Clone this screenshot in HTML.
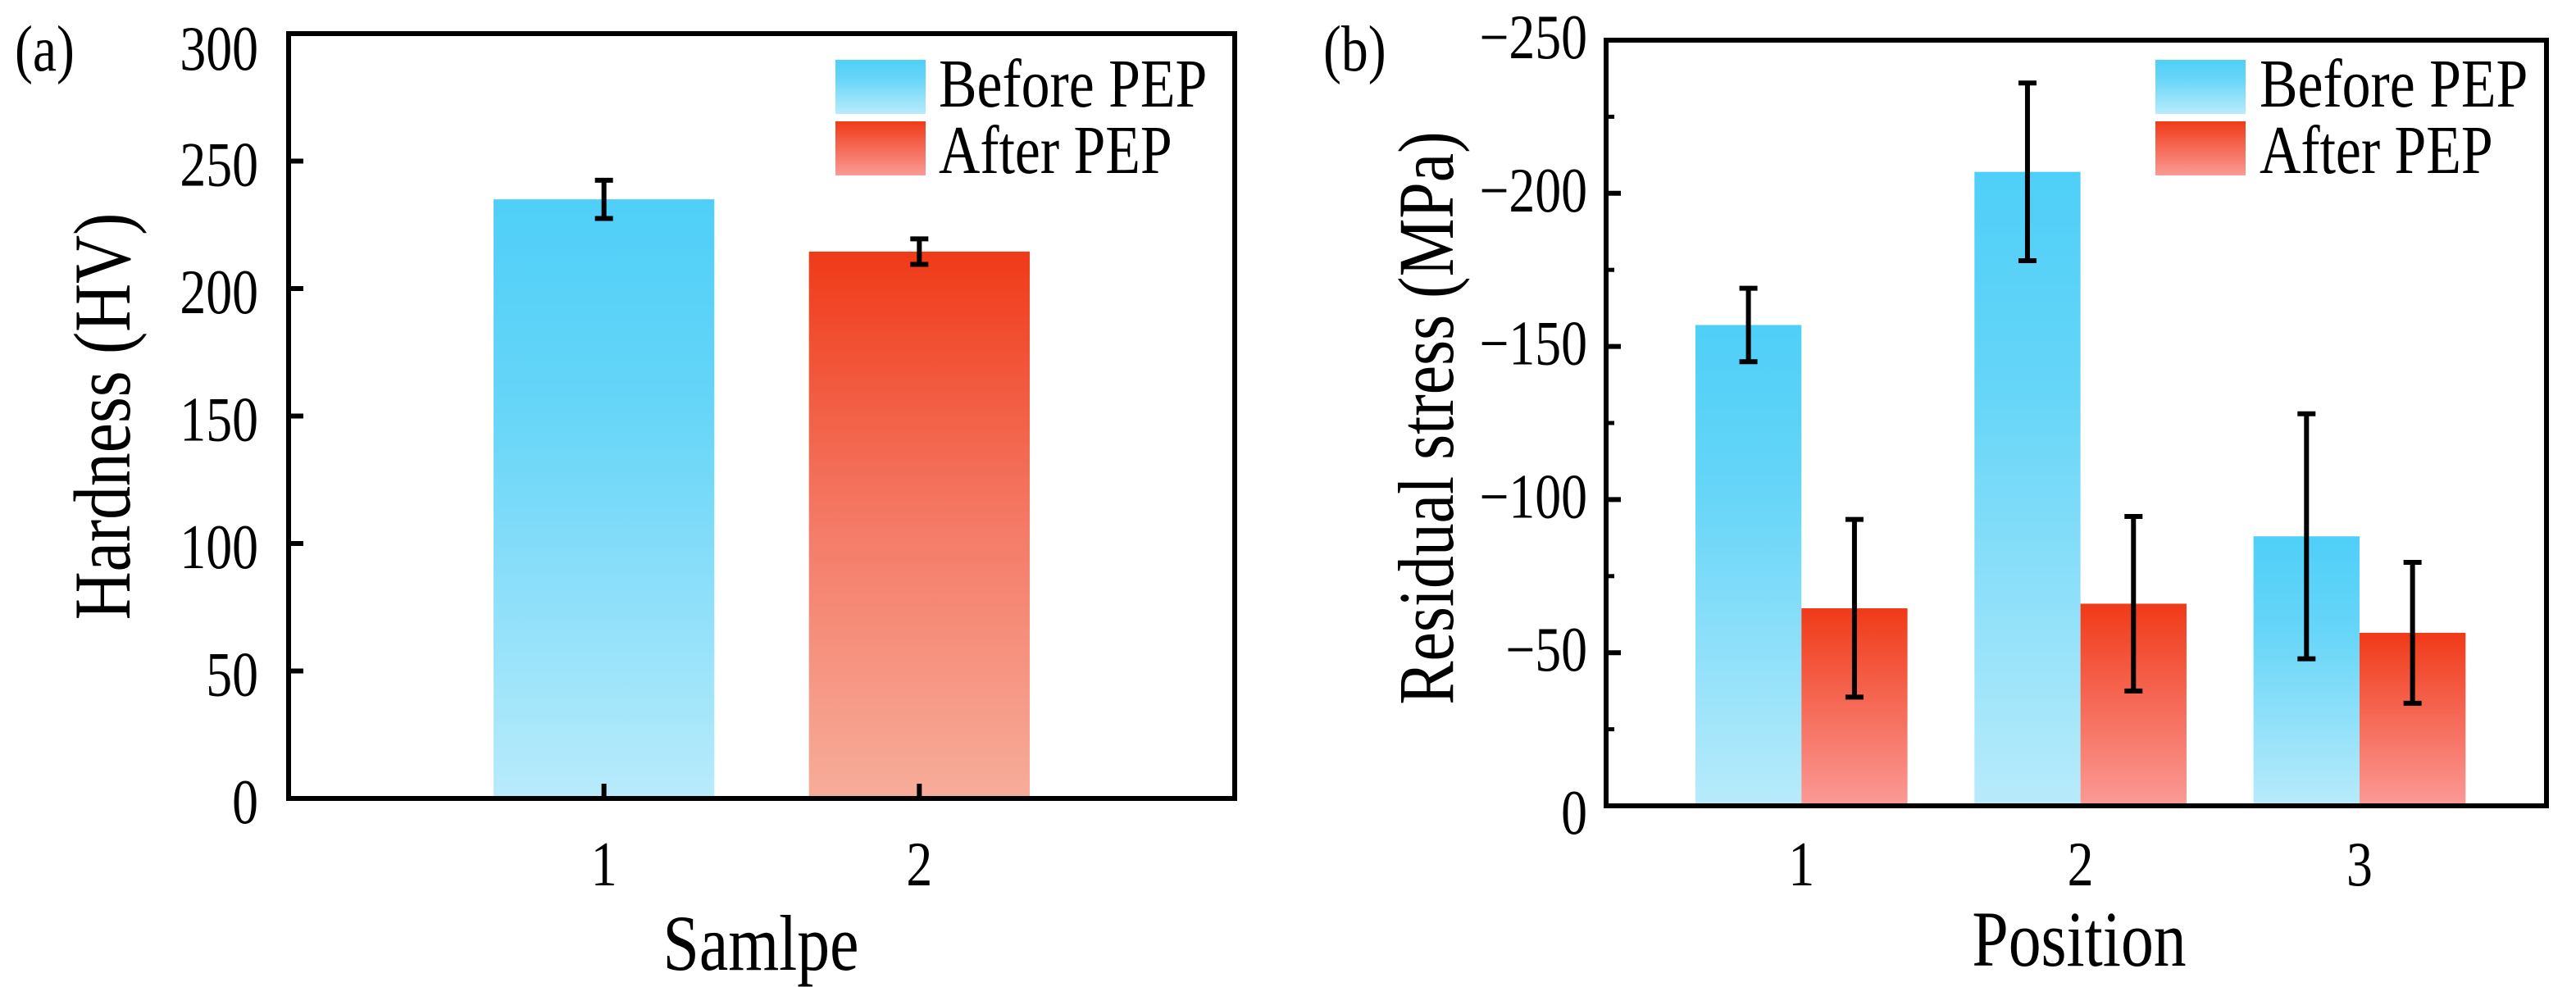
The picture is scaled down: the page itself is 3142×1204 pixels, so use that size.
<!DOCTYPE html>
<html><head><meta charset="utf-8"><style>
html,body{margin:0;padding:0;background:#fff;}
svg{display:block;font-family:"Liberation Serif","Times New Roman",serif;}
</style></head><body>
<svg id="fig" width="3142" height="1204" viewBox="0 0 3142 1204" xmlns="http://www.w3.org/2000/svg">
<defs>
<linearGradient id="gBlue" x1="0" y1="0" x2="0" y2="1"><stop offset="0" stop-color="#4fcff8"/><stop offset="0.35" stop-color="#66d5f8"/><stop offset="1" stop-color="#b8ebfb"/></linearGradient>
<linearGradient id="gRedA" x1="0" y1="0" x2="0" y2="1"><stop offset="0" stop-color="#f03a18"/><stop offset="0.5" stop-color="#f47a66"/><stop offset="1" stop-color="#f7ad9a"/></linearGradient>
<linearGradient id="gRedB" x1="0" y1="0" x2="0" y2="1"><stop offset="0" stop-color="#f03a18"/><stop offset="1" stop-color="#fb9a96"/></linearGradient>
</defs>
</svg>
<script>
// Panel (a) data
const catsA = ["1","2"];
const hardness = [235, 214.5];
const hardnessErr = [7.5, 5];
const yTicksA = [0,50,100,150,200,250,300];
// Panel (b) data
const catsB = ["1","2","3"];
const beforeVals = [157, 207, 88];
const beforeErr = [12, 29, 40];
const afterVals = [64.5, 66, 56.5];
const afterErr = [29, 28.5, 23];
const yTicksB = [0,50,100,150,200,250];

const NS = "http://www.w3.org/2000/svg";
const svg = document.getElementById('fig');
const SX = 0.83, SY = 1.2;
function mk(tag, attrs, parent){const e=document.createElementNS(NS,tag);for(const k in attrs)e.setAttribute(k,attrs[k]);(parent||svg).appendChild(e);return e;}
// condensed tall text: fs = nominal size, rot = rotate degrees
function txt(s, x, y, fs, anchor, parent, rot){
  const tr = `translate(${x},${y})` + (rot?` rotate(${rot})`:'') + ` scale(${SX},1)`;
  const e=mk('text',{x:0,y:0,'font-size':fs*SY,'text-anchor':anchor||'start',transform:tr},parent);
  e.textContent=s;return e;
}

// ---------- Panel A ----------
const A = {l:352, r:1506, t:41, b:974, x0:0, x1:3, y0:0, y1:300};
const xA = v => A.l + (v-A.x0)/(A.x1-A.x0)*(A.r-A.l);
const yA = v => A.b - (v-A.y0)/(A.y1-A.y0)*(A.b-A.t);
const gA = mk('g',{});


hardness.forEach((v,i)=>{
  const c=i+1, w=0.7;
  const r=mk('rect',{x:xA(c-w/2),y:yA(v),width:xA(c+w/2)-xA(c-w/2),height:yA(0)-yA(v),fill:i===0?'url(#gBlue)':'url(#gRedA)'},gA);
  
  
  const e=hardnessErr[i], cx=xA(c);
  const eb=mk('path',{d:`M${cx-11},${yA(v+e)}H${cx+11}M${cx},${yA(v+e)}V${yA(v-e)}M${cx-11},${yA(v-e)}H${cx+11}`,stroke:'#000','stroke-width':6,fill:'none'},gA);
  
  
});
mk('rect',{x:A.l,y:A.t,width:A.r-A.l,height:A.b-A.t,fill:'none',stroke:'#000','stroke-width':6},gA);
yTicksA.forEach(t=>{
  const y=yA(t);
  if(t>0&&t<300) mk('line',{x1:A.l,x2:A.l+18,y1:y,y2:y,stroke:'#000','stroke-width':6},gA);
  const lb=txt(String(t),315,y+(t===300?44:30),64,'end',gA);
  
  
});
catsA.forEach((c,i)=>{
  const x=xA(i+1);
  mk('line',{x1:x,x2:x,y1:A.b,y2:A.b-18,stroke:'#000','stroke-width':6},gA);
  const lb=txt(c,x,1080,64,'middle',gA);
  
  
});
let t1=txt('Hardness (HV)',158,508,82,'middle',gA,-90);


t1=txt('Samlpe',928,1183,80,'middle',gA);


t1=txt('(a)',18,86,66,'start',gA);


let lg=mk('g',{},gA);


mk('rect',{x:1019,y:73,width:110,height:66,fill:'url(#gBlue)'},lg);
mk('rect',{x:1019,y:148,width:110,height:66,fill:'url(#gRedB)'},lg);
txt('Before PEP',1145,130,70,'start',lg);
txt('After PEP',1145,211,70,'start',lg);

// ---------- Panel B ----------
const B = {l:1959, r:3106, t:49, b:983, x0:0.3, x1:3.67, y0:0, y1:250};
const xB = v => B.l + (v-B.x0)/(B.x1-B.x0)*(B.r-B.l);
const yB = v => B.b - (v-B.y0)/(B.y1-B.y0)*(B.b-B.t);
const gB = mk('g',{});


function barB(c, off, v, e, fill, name){
  const w=0.38;
  const x0=xB(c+off), x1=xB(c+off+w);
  const r=mk('rect',{x:x0,y:yB(v),width:x1-x0,height:yB(0)-yB(v),fill:fill},gB);
  
  
  const cx=(x0+x1)/2;
  const eb=mk('path',{d:`M${cx-11},${yB(v+e)}H${cx+11}M${cx},${yB(v+e)}V${yB(v-e)}M${cx-11},${yB(v-e)}H${cx+11}`,stroke:'#000','stroke-width':6,fill:'none'},gB);
  
  
}
beforeVals.forEach((v,i)=>barB(i+1,-0.38,v,beforeErr[i],'url(#gBlue)','bar-before-pos-'+catsB[i]));
afterVals.forEach((v,i)=>barB(i+1,0,v,afterErr[i],'url(#gRedB)','bar-after-pos-'+catsB[i]));
mk('rect',{x:B.l,y:B.t,width:B.r-B.l,height:B.b-B.t,fill:'none',stroke:'#000','stroke-width':6},gB);
yTicksB.forEach(t=>{
  const y=yB(t);
  if(t>0&&t<250) mk('line',{x1:B.l,x2:B.l+18,y1:y,y2:y,stroke:'#000','stroke-width':6},gB);
  if(t<250) mk('line',{x1:B.l,x2:B.l+10,y1:yB(t+25),y2:yB(t+25),stroke:'#000','stroke-width':5},gB);
  const lb=txt(t===0?'0':'\u2212'+t,1936,y+(t===0?34:22),64,'end',gB);
  
  
});
catsB.forEach((c,i)=>{
  const x=xB(i+1);
  const lb=txt(c,x,1080,64,'middle',gB);
  
  
});
t1=txt('Residual stress (MPa)',1772,510,80,'middle',gB,-90);


t1=txt('Position',2536,1178,80,'middle',gB);


t1=txt('(b)',1614,86,66,'start',gB);


lg=mk('g',{},gB);


mk('rect',{x:2629,y:73,width:110,height:66,fill:'url(#gBlue)'},lg);
mk('rect',{x:2629,y:148,width:110,height:66,fill:'url(#gRedB)'},lg);
txt('Before PEP',2756,130,70,'start',lg);
txt('After PEP',2756,211,70,'start',lg);
</script>
</body></html>
